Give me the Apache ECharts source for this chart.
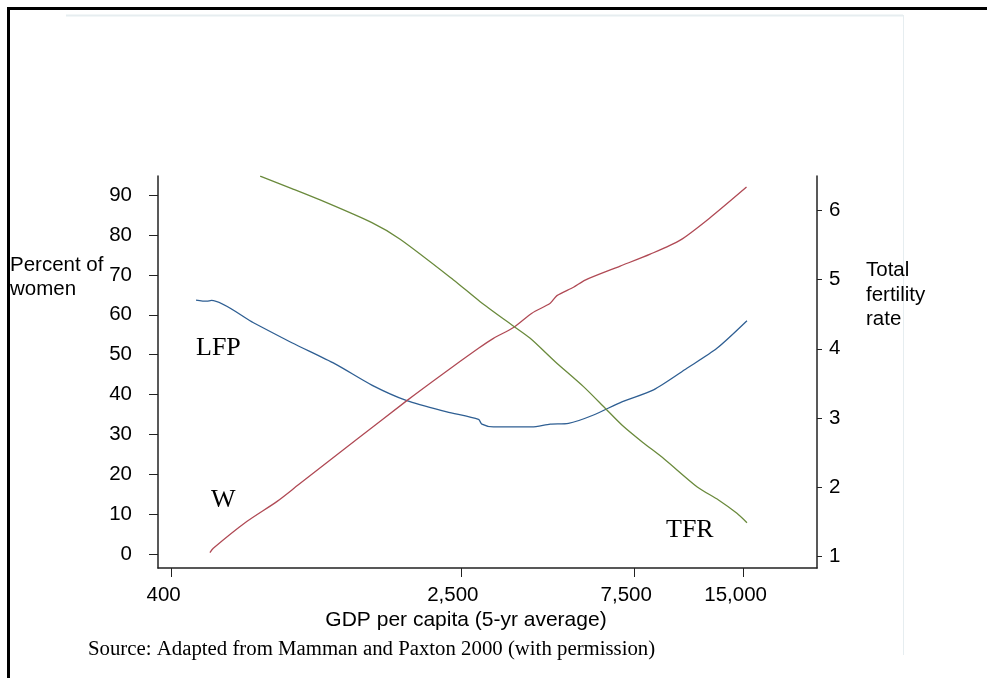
<!DOCTYPE html>
<html><head><meta charset="utf-8">
<script src="https://cdn.jsdelivr.net/npm/echarts@6/dist/echarts.min.js"></script>
<style>html,body{margin:0;padding:0;background:#fff}#c{width:987px;height:678px}</style>
</head><body><div id="c"></div>
<script>
// GDP per capita (x) and values
const lfpGdp = [467, 500, 515, 672, 857, 1127, 1422, 1776, 2288, 2796, 2857, 3074, 3922, 4405, 4946, 5797, 6937, 8478, 10474, 12665, 15322];
const lfpPct = [63.7, 63.4, 63.6, 58.0, 53.0, 47.7, 42.4, 38.5, 35.7, 33.8, 32.6, 31.9, 31.9, 32.6, 32.8, 34.9, 38.2, 41.2, 46.6, 51.6, 58.5];
const wGdp = [510, 521, 644, 779, 893, 1294, 1776, 2240, 2796, 3074, 3490, 3922, 4405, 4596, 5105, 5498, 6863, 8300, 10040, 12084, 15280];
const wPct = [0.4, 1.5, 8.2, 13.2, 17.4, 28.8, 38.5, 45.3, 51.6, 54.1, 56.8, 60.4, 62.9, 64.8, 66.9, 68.7, 72.2, 75.2, 78.7, 84.2, 92.0];
const tfrGdp = [701, 857, 1025, 1423, 1702, 2387, 2826, 3454, 3880, 4546, 5439, 6241, 6937, 7875, 9070, 11183, 12794, 14378, 15322];
const tfrRate = [6.50, 6.32, 6.155, 5.826, 5.586, 4.997, 4.682, 4.345, 4.152, 3.813, 3.452, 3.139, 2.897, 2.655, 2.405, 2.0, 1.811, 1.618, 1.482];
const xTicks = [400, 2500, 7500, 15000];
const xTickLabels = ['400', '2,500', '7,500', '15,000'];
const leftTicks = [0, 10, 20, 30, 40, 50, 60, 70, 80, 90];
const rightTicks = [1, 2, 3, 4, 5, 6];

const pair = (xs, ys) => xs.map((x, i) => [x, ys[i]]);
const SANS = 'Liberation Sans';
const SERIF = 'Liberation Serif';
const AX = '#222';

const chart = echarts.init(document.getElementById('c'));
chart.setOption({
  animation: false,
  backgroundColor: '#fff',
  grid: { left: 158, right: 170, top: 176, bottom: 110, containLabel: false },
  xAxis: {
    type: 'log', logBase: 10, min: 367, max: 23880,
    axisLine: { show: true, onZero: false, lineStyle: { color: AX, width: 1.5 } },
    axisTick: { show: true, length: 9, customValues: xTicks, lineStyle: { color: AX, width: 1 } },
    minorTick: { show: false },
    axisLabel: {
      customValues: xTicks, margin: 17, fontSize: 20.5, fontFamily: SANS, color: '#000',
      padding: [0, 16, 0, 0],
      formatter: v => { const i = xTicks.findIndex(t => Math.abs(t - v) < 1e-6 * t); return i >= 0 ? xTickLabels[i] : ''; }
    },
    splitLine: { show: false }
  },
  yAxis: [
    {
      type: 'value', position: 'left', min: -3.43, max: 94.77,
      axisLine: { show: true, onZero: false, lineStyle: { color: AX, width: 1.5 } },
      axisTick: { show: true, length: 9, customValues: leftTicks, lineStyle: { color: AX, width: 1 } },
      axisLabel: { customValues: leftTicks, margin: 26, fontSize: 20.5, fontFamily: SANS, color: '#000' },
      splitLine: { show: false }
    },
    {
      type: 'value', position: 'right', min: 0.826, max: 6.502,
      axisLine: { show: true, onZero: false, lineStyle: { color: AX, width: 1.5 } },
      axisTick: { show: true, length: 5, customValues: rightTicks, lineStyle: { color: AX, width: 1 } },
      axisLabel: { customValues: rightTicks, margin: 12, fontSize: 20.5, fontFamily: SANS, color: '#000' },
      splitLine: { show: false }
    }
  ],
  series: [
    { name: 'LFP', type: 'line', yAxisIndex: 0, data: pair(lfpGdp, lfpPct), showSymbol: false, symbol: 'none', smooth: 0.25,
      lineStyle: { color: '#2f5f93', width: 1.3 } },
    { name: 'W', type: 'line', yAxisIndex: 0, data: pair(wGdp, wPct), showSymbol: false, symbol: 'none', smooth: 0.25,
      lineStyle: { color: '#b04a55', width: 1.3 } },
    { name: 'TFR', type: 'line', yAxisIndex: 1, data: pair(tfrGdp, tfrRate), showSymbol: false, symbol: 'none', smooth: 0.25,
      lineStyle: { color: '#6a8a3c', width: 1.3 } }
  ],
  graphic: [
    { type: 'rect', silent: true, z: 100, shape: { x: 8.5, y: 8.5, width: 1000, height: 700 },
      style: { fill: 'none', stroke: '#000', lineWidth: 3 } },
    { type: 'line', silent: true, shape: { x1: 66, y1: 15.5, x2: 903, y2: 15.5 }, style: { stroke: '#e6edf0', lineWidth: 2 } },
    { type: 'line', silent: true, shape: { x1: 903.5, y1: 15, x2: 903.5, y2: 655 }, style: { stroke: '#e6edf0', lineWidth: 1 } },
    { type: 'text', silent: true, x: 10, y: 265.5, style: { text: 'Percent of', font: '20.5px ' + SANS, fill: '#000', verticalAlign: 'middle' } },
    { type: 'text', silent: true, x: 10, y: 289.5, style: { text: 'women', font: '20.5px ' + SANS, fill: '#000', verticalAlign: 'middle' } },
    { type: 'text', silent: true, x: 866, y: 270.8, style: { text: 'Total', font: '20.5px ' + SANS, fill: '#000', verticalAlign: 'middle' } },
    { type: 'text', silent: true, x: 866, y: 295.3, style: { text: 'fertility', font: '20.5px ' + SANS, fill: '#000', verticalAlign: 'middle' } },
    { type: 'text', silent: true, x: 866, y: 319.8, style: { text: 'rate', font: '20.5px ' + SANS, fill: '#000', verticalAlign: 'middle' } },
    { type: 'text', silent: true, x: 466, y: 620.5, style: { text: 'GDP per capita (5-yr average)', font: '21px ' + SANS, fill: '#000', align: 'center', verticalAlign: 'middle' } },
    { type: 'text', silent: true, x: 196, y: 348.5, style: { text: 'LFP', font: '26px ' + SERIF, fill: '#000', verticalAlign: 'middle' } },
    { type: 'text', silent: true, x: 211, y: 500, style: { text: 'W', font: '26px ' + SERIF, fill: '#000', verticalAlign: 'middle' } },
    { type: 'text', silent: true, x: 666, y: 530.4, style: { text: 'TFR', font: '26px ' + SERIF, fill: '#000', verticalAlign: 'middle' } },
    { type: 'text', silent: true, x: 88, y: 649.5, style: { text: 'Source: Adapted from Mamman and Paxton 2000 (with permission)', font: '20.8px ' + SERIF, fill: '#000', verticalAlign: 'middle' } }
  ]
});
</script></body></html>
